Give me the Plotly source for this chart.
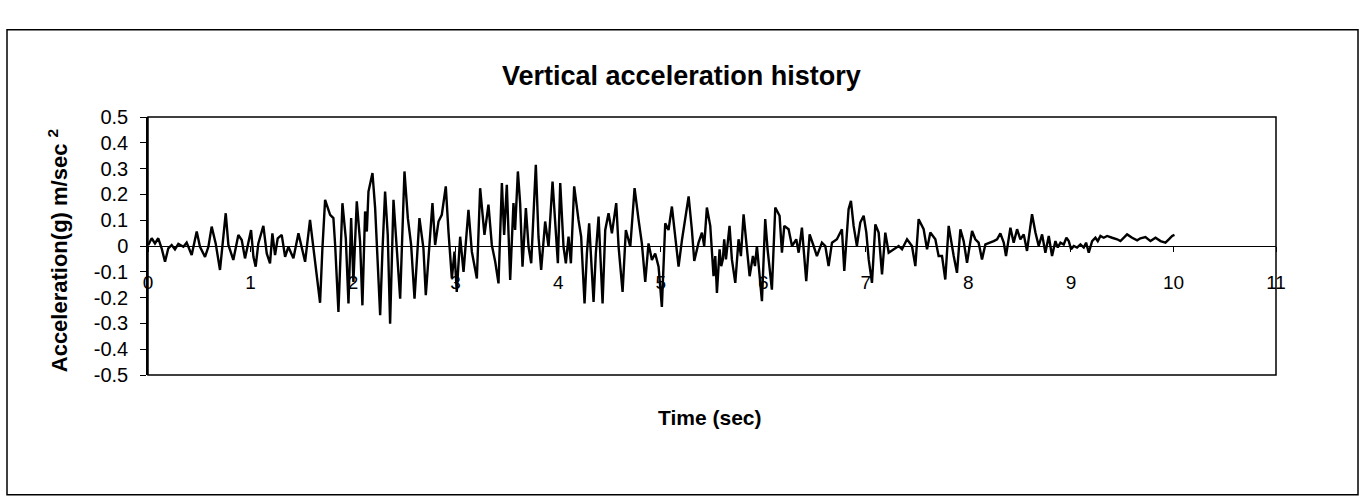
import plotly.graph_objects as go

# ---- data ----
time_s = [
    0.003, 0.036, 0.068, 0.10, 0.133, 0.166, 0.198, 0.231, 0.263, 0.296, 0.345, 0.377, 0.426, 0.475,
    0.507, 0.556, 0.589, 0.621, 0.66, 0.702, 0.758, 0.784, 0.832, 0.881, 0.914, 0.946, 1.005, 1.028,
    1.05, 1.076, 1.125, 1.158, 1.19, 1.213, 1.239, 1.265, 1.304, 1.337, 1.369, 1.418, 1.467, 1.499,
    1.532, 1.58, 1.613, 1.645, 1.678, 1.70, 1.727, 1.776, 1.808, 1.825, 1.857, 1.896, 1.929, 1.955,
    1.981, 2.003, 2.036, 2.068, 2.091, 2.117, 2.134, 2.15, 2.189, 2.215, 2.231, 2.264, 2.286, 2.312,
    2.338, 2.361, 2.394, 2.42, 2.459, 2.501, 2.534, 2.566, 2.599, 2.647, 2.686, 2.709, 2.742, 2.774,
    2.8, 2.833, 2.865, 2.904, 2.93, 2.963, 2.989, 3.011, 3.044, 3.077, 3.125, 3.158, 3.207, 3.239,
    3.281, 3.32, 3.353, 3.386, 3.418, 3.451, 3.473, 3.499, 3.532, 3.564, 3.58, 3.607, 3.629, 3.652,
    3.685, 3.711, 3.737, 3.782, 3.808, 3.834, 3.873, 3.906, 3.945, 3.971, 3.997, 4.02, 4.052, 4.075,
    4.101, 4.124, 4.156, 4.198, 4.224, 4.257, 4.28, 4.302, 4.345, 4.367, 4.394, 4.433, 4.459, 4.491,
    4.524, 4.566, 4.589, 4.628, 4.66, 4.703, 4.745, 4.784, 4.816, 4.849, 4.881, 4.914, 4.946, 4.979,
    5.011, 5.044, 5.076, 5.109, 5.142, 5.174, 5.207, 5.239, 5.272, 5.304, 5.327, 5.369, 5.402, 5.424,
    5.45, 5.483, 5.515, 5.532, 5.548, 5.574, 5.59, 5.606, 5.619, 5.636, 5.671, 5.694, 5.727, 5.759,
    5.782, 5.808, 5.834, 5.867, 5.899, 5.919, 5.938, 5.987, 6.019, 6.042, 6.084, 6.117, 6.159, 6.182,
    6.205, 6.247, 6.28, 6.322, 6.345, 6.377, 6.419, 6.452, 6.491, 6.523, 6.572, 6.605, 6.637, 6.67,
    6.718, 6.767, 6.79, 6.832, 6.855, 6.881, 6.913, 6.946, 6.979, 7.005, 7.028, 7.06, 7.093, 7.125,
    7.158, 7.19, 7.223, 7.271, 7.32, 7.353, 7.402, 7.45, 7.483, 7.515, 7.564, 7.597, 7.629, 7.678,
    7.71, 7.743, 7.775, 7.808, 7.834, 7.857, 7.889, 7.922, 7.954, 7.987, 8.036, 8.068, 8.1, 8.133,
    8.166, 8.214, 8.247, 8.28, 8.312, 8.345, 8.367, 8.41, 8.442, 8.475, 8.507, 8.54, 8.572, 8.621,
    8.654, 8.686, 8.719, 8.751, 8.784, 8.816, 8.849, 8.872, 8.898, 8.93, 8.956, 8.979, 9.002, 9.028,
    9.06, 9.093, 9.125, 9.148, 9.174, 9.207, 9.239, 9.262, 9.288, 9.32, 9.353, 9.402, 9.451, 9.483,
    9.516, 9.548, 9.597, 9.646, 9.678, 9.727, 9.776, 9.825, 9.874, 9.922, 9.955, 9.987, 10.01,
]
accel_g = [
    0.004, 0.03, 0.01, 0.03, -0.009, -0.061, -0.009, 0.004, -0.013, 0.008, -0.003, 0.013, -0.035, 0.056,
    -0.003, -0.042, -0.003, 0.075, 0.01, -0.093, 0.127, 0.004, -0.054, 0.043, 0.023, -0.048, 0.062, -0.042,
    -0.08, 0.01, 0.078, -0.029, -0.067, 0.049, -0.035, 0.03, 0.043, -0.042, -0.003, -0.048, 0.049, -0.003,
    -0.061, 0.101, -0.003, -0.106, -0.22, -0.016, 0.179, 0.121, 0.108, 0.004, -0.256, 0.166, 0.03, -0.223,
    0.108, -0.139, 0.173, 0.017, -0.23, 0.134, 0.056, 0.211, 0.283, 0.147, 0.004, -0.268, -0.022, 0.211,
    0.043, -0.301, 0.179, 0.017, -0.204, 0.289, 0.108, 0.004, -0.204, 0.108, -0.009, -0.191, -0.022, 0.166,
    0.004, 0.095, 0.121, 0.231, 0.056, -0.126, -0.022, -0.178, 0.036, -0.1, 0.14, -0.022, -0.126, 0.224,
    0.043, 0.16, 0.004, -0.061, -0.145, 0.244, 0.043, 0.237, -0.132, 0.166, 0.062, 0.289, 0.166, -0.08,
    0.147, -0.003, -0.067, 0.315, 0.036, -0.093, 0.095, -0.003, 0.25, 0.075, -0.067, 0.244, -0.003, -0.067,
    0.036, -0.067, 0.231, 0.101, 0.036, -0.223, -0.029, 0.088, -0.217, -0.029, 0.114, -0.223, 0.062, 0.127,
    0.049, 0.166, -0.003, -0.178, 0.062, -0.003, 0.224, 0.101, 0.01, -0.139, 0.01, -0.054, -0.029, -0.08,
    -0.236, 0.088, 0.062, 0.153, 0.023, -0.08, 0.023, 0.101, 0.192, 0.062, -0.058, 0.013, 0.052, 0.0,
    0.149, 0.078, -0.117, -0.039, -0.182, -0.013, -0.078, -0.052, 0.026, -0.052, 0.078, -0.052, -0.143, 0.026,
    -0.039, 0.123, 0.026, -0.117, -0.039, -0.078, 0.0, -0.214, 0.104, -0.013, -0.169, 0.149, 0.117, -0.026,
    0.078, 0.065, 0.0, 0.026, -0.026, 0.071, -0.136, 0.045, 0.0, -0.039, 0.013, 0.0, -0.078, 0.013,
    0.026, 0.065, -0.097, 0.143, 0.175, 0.078, 0.0, 0.091, 0.117, 0.052, -0.052, -0.143, 0.084, 0.052,
    -0.11, 0.052, -0.026, -0.013, 0.0, -0.013, 0.026, 0.0, -0.078, 0.104, 0.065, -0.013, 0.052, 0.026,
    -0.039, -0.039, -0.13, 0.078, 0.013, -0.039, -0.104, 0.065, 0.019, -0.065, 0.058, 0.026, 0.013, -0.052,
    0.006, 0.013, 0.019, 0.026, 0.049, 0.013, -0.039, 0.071, 0.013, 0.065, 0.026, 0.045, -0.019, 0.123,
    0.052, 0.0, 0.045, -0.026, 0.039, -0.039, 0.019, -0.006, 0.013, 0.006, 0.032, 0.019, -0.013, 0.0,
    -0.006, 0.006, -0.006, 0.013, -0.026, 0.019, 0.032, 0.019, 0.039, 0.032, 0.039, 0.032, 0.026, 0.019,
    0.032, 0.045, 0.032, 0.022, 0.03, 0.035, 0.019, 0.032, 0.019, 0.013, 0.026, 0.039, 0.043,
]
x_ticks = list(range(0, 12))
y_ticks = [0.5, 0.4, 0.3, 0.2, 0.1, 0.0, -0.1, -0.2, -0.3, -0.4, -0.5]
y_tick_text = ["0.5", "0.4", "0.3", "0.2", "0.1", "0", "-0.1", "-0.2", "-0.3", "-0.4", "-0.5"]

title_text = "Vertical acceleration history"
x_title = "Time (sec)"
y_title = "Acceleration(g) m/sec <sup>2</sup>"

FONT = "Liberation Sans, Arial, sans-serif"

fig = go.Figure()
fig.add_trace(go.Scatter(
    x=time_s, y=accel_g, mode="lines",
    line=dict(color="black", width=2.4),
    showlegend=False, hoverinfo="skip",
))

fig.update_layout(
    width=1364, height=496,
    margin=dict(l=148, r=88, t=117, b=121),
    paper_bgcolor="white", plot_bgcolor="white",
    font=dict(family=FONT, color="black", size=18),
    xaxis=dict(
        range=[0, 11], tickvals=x_ticks, ticktext=[str(v) for v in x_ticks],
        showgrid=False, zeroline=False, showline=True, linecolor="black", linewidth=1,
        anchor="free", position=0.5,
        ticks="outside", ticklen=5, tickcolor="black",
        ticklabelstandoff=14,
        tickfont=dict(family=FONT, size=19, color="black"),
    ),
    yaxis=dict(
        range=[-0.5, 0.5], tickvals=y_ticks, ticktext=y_tick_text,
        showgrid=False, zeroline=False, showline=True, linecolor="black", linewidth=1.5,
        ticks="outside", ticklen=6, tickcolor="black",
        ticklabelstandoff=8,
        tickfont=dict(family=FONT, size=20, color="black"),
    ),
    shapes=[
        dict(type="rect", xref="paper", yref="paper", x0=0, x1=1, y0=0, y1=1,
             line=dict(color="black", width=1.5), layer="above"),
        dict(type="rect", xref="paper", yref="paper", x0=-0.125, x1=1.0727, y0=-0.464, y1=1.338,
             line=dict(color="black", width=1.5), layer="above"),
    ],
    annotations=[
        dict(text="<b>" + title_text + "</b>", xref="paper", yref="paper",
             x=0.4734, y=1.16, xanchor="center", yanchor="middle", showarrow=False,
             font=dict(family=FONT, size=27, color="black")),
        dict(text="<b>" + x_title + "</b>", xref="paper", yref="paper",
             x=0.498, y=-0.165, xanchor="center", yanchor="middle", showarrow=False,
             font=dict(family=FONT, size=21, color="black")),
        dict(text="<b>" + y_title + "</b>", xref="paper", yref="paper",
             x=-0.0798, y=0.4835, xanchor="center", yanchor="middle", showarrow=False,
             textangle=-90, font=dict(family=FONT, size=22, color="black")),
    ],
)

fig.write_html("out.html", config={"displayModeBar": False},
               post_script="document.body.style.margin='0';document.body.style.overflow='hidden';")
